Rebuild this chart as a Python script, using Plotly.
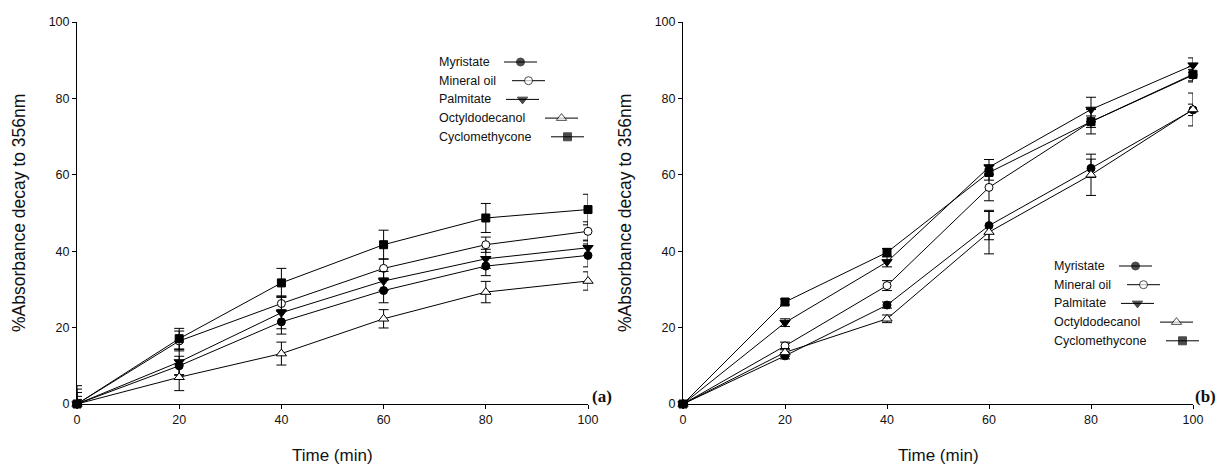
import plotly.graph_objects as go

# ---------------- data ----------------
time_min = [0, 20, 40, 60, 80, 100]
series_names = ["Myristate", "Mineral oil", "Palmitate", "Octyldodecanol", "Cyclomethycone"]

# panel (a)
myristate_a = [0, 10.0, 21.5, 29.7, 36.1, 38.9]
mineral_a = [0, 16.5, 26.3, 35.5, 41.7, 45.2]
palmitate_a = [0, 11.0, 23.9, 32.2, 38.0, 40.9]
octyl_a = [0, 7.0, 13.2, 22.3, 29.3, 32.2]
cyclo_a = [0, 17.1, 31.7, 41.7, 48.7, 50.9]
myristate_a_err = [2.0, 2.5, 3.2, 3.2, 2.5, 3.0]
mineral_a_err = [3.0, 2.6, 2.0, 2.5, 2.0, 2.5]
palmitate_a_err = [3.9, 3.3, 4.2, 2.5, 2.5, 2.0]
octyl_a_err = [1.2, 3.5, 3.0, 2.4, 2.8, 2.4]
cyclo_a_err = [4.8, 2.7, 3.8, 3.8, 3.8, 4.0]

# panel (b)
myristate_b = [0, 12.6, 25.9, 46.7, 61.7, 77.0]
mineral_b = [0, 15.2, 31.0, 56.7, 73.9, 86.1]
palmitate_b = [0, 21.3, 37.2, 62.0, 77.1, 88.7]
octyl_b = [0, 13.5, 22.3, 45.0, 60.0, 77.1]
cyclo_b = [0, 26.7, 39.7, 60.6, 73.9, 86.3]
myristate_b_err = [0, 0.8, 0.8, 3.7, 2.4, 1.5]
mineral_b_err = [0, 1.0, 1.3, 3.5, 1.5, 1.5]
palmitate_b_err = [0, 1.0, 1.3, 2.0, 3.2, 1.9]
octyl_b_err = [0, 1.0, 1.0, 5.7, 5.4, 4.3]
cyclo_b_err = [0, 0.8, 1.0, 2.0, 3.2, 2.0]

x_ticks = [0, 20, 40, 60, 80, 100]
y_ticks = [0, 20, 40, 60, 80, 100]
x_title = "Time (min)"
y_title = "%Absorbance decay to 356nm"
panel_labels = ["(a)", "(b)"]

# ---------------- style ----------------
W, H = 1216, 466
FONT = "Liberation Sans, Arial, sans-serif"
TXT = "#111111"
marker_styles = [
    dict(symbol="circle", color="black", size=8, line=dict(color="black", width=1)),
    dict(symbol="circle", color="white", size=8, line=dict(color="black", width=1)),
    dict(symbol="triangle-down", color="black", size=9, line=dict(color="black", width=1)),
    dict(symbol="triangle-up", color="white", size=9, line=dict(color="black", width=1)),
    dict(symbol="square", color="black", size=8, line=dict(color="black", width=1)),
]

fig = go.Figure()

panels = [
    ("x", "y", [myristate_a, mineral_a, palmitate_a, octyl_a, cyclo_a],
     [myristate_a_err, mineral_a_err, palmitate_a_err, octyl_a_err, cyclo_a_err]),
    ("x2", "y2", [myristate_b, mineral_b, palmitate_b, octyl_b, cyclo_b],
     [myristate_b_err, mineral_b_err, palmitate_b_err, octyl_b_err, cyclo_b_err]),
]

for xa, ya, ys, errs in panels:
    for name, yv, ev, ms in zip(series_names, ys, errs, marker_styles):
        minus = [0 if t == 0 else e for t, e in zip(time_min, ev)]
        fig.add_trace(go.Scatter(
            x=time_min, y=yv, name=name, xaxis=xa, yaxis=ya,
            mode="lines+markers", showlegend=False, cliponaxis=False,
            line=dict(color="black", width=1),
            marker=ms,
            error_y=dict(type="data", array=ev, arrayminus=minus, symmetric=False,
                         color="black", thickness=1, width=5),
        ))

# ---------------- custom legends (sample to the right of text) ----------------
legend_anchor = [(437, 62), (1052, 266)]  # pixel positions of first entry text
row_gap = 18.7
sample_offsets = [67, 75, 69, 108, 114]
sample_len = 33

for (lx, ly) in legend_anchor:
    for i, (name, ms) in enumerate(zip(series_names, marker_styles)):
        yy = ly + i * row_gap
        x0 = lx + sample_offsets[i]
        fig.add_trace(go.Scatter(
            x=[x0, x0 + sample_len / 2, x0 + sample_len], y=[yy, yy, yy],
            xaxis="x3", yaxis="y3", mode="lines+markers", showlegend=False,
            cliponaxis=False, hoverinfo="skip",
            line=dict(color="black", width=1),
            marker=dict(symbol=ms["symbol"], color=ms["color"], line=ms["line"],
                        size=[0, ms["size"], 0]),
        ))
        fig.add_annotation(x=lx / W, y=1 - yy / H, xref="paper", yref="paper",
                           text=name, showarrow=False, xanchor="left", yanchor="middle",
                           font=dict(family=FONT, size=12.5, color=TXT))

# ---------------- axes ----------------
yb, yt = 1 - 404 / H, 1 - 22 / H
dom_a = [77 / W, 588 / W]
dom_b = [683 / W, 1193 / W]

ax_common = dict(showgrid=False, zeroline=False, showline=True, linecolor="black",
                 linewidth=1, ticks="outside", ticklen=4, tickcolor="black",
                 automargin=False,
                 tickfont=dict(family=FONT, size=12.5, color=TXT))

fig.update_layout(
    width=W, height=H, margin=dict(l=0, r=0, t=0, b=0, autoexpand=False),
    paper_bgcolor="white", plot_bgcolor="rgba(0,0,0,0)",
    xaxis=dict(domain=dom_a, range=[0, 100], tickvals=x_ticks, anchor="y", **ax_common),
    yaxis=dict(domain=[yb, yt], range=[0, 100], tickvals=y_ticks, anchor="x", **ax_common),
    xaxis2=dict(domain=dom_b, range=[0, 100], tickvals=x_ticks, anchor="y2", **ax_common),
    yaxis2=dict(domain=[yb, yt], range=[0, 100], tickvals=y_ticks, anchor="x2", **ax_common),
    xaxis3=dict(domain=[0, 1], range=[0, W], visible=False, anchor="y3", fixedrange=True,
                automargin=False),
    yaxis3=dict(domain=[0, 1], range=[H, 0], visible=False, anchor="x3", fixedrange=True,
                automargin=False),
)

# axis titles
for cx, cyt in [((77 + 588) / 2, 19), ((683 + 1193) / 2, 625)]:
    fig.add_annotation(x=cx / W, y=0, xref="paper", yref="paper", text=x_title,
                       showarrow=False, xanchor="center", yanchor="bottom",
                       borderpad=0,
                       font=dict(family=FONT, size=17, color=TXT))
    fig.add_annotation(x=cyt / W, y=1 - 213 / H, xref="paper", yref="paper", text=y_title,
                       showarrow=False, xanchor="center", yanchor="middle", textangle=-90,
                       font=dict(family=FONT, size=17.5, color=TXT))

# panel labels
for lbl, px in zip(panel_labels, [602, 1205]):
    fig.add_annotation(x=px / W, y=1 - 396 / H, xref="paper", yref="paper",
                       text="<b>%s</b>" % lbl, showarrow=False, xanchor="center",
                       yanchor="middle",
                       font=dict(family="Liberation Serif, Times New Roman, serif",
                                 size=17, color=TXT))

fig.write_html("out.html")
